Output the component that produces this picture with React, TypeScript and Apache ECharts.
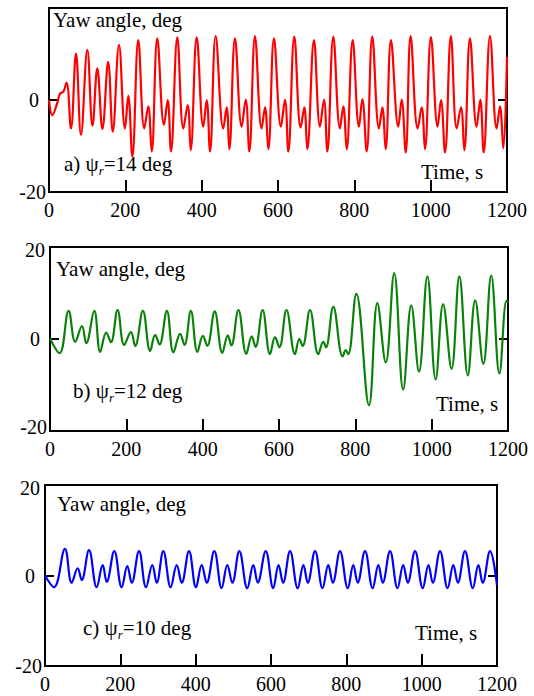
import React, { useEffect, useRef } from "react";
import * as echarts from "echarts";

// Panel a) psi_r = 14 deg (red)
const T_A = [0, 8.7, 20, 29, 37.6, 46, 57.6, 70.7, 83.8, 100.4, 114, 126.6, 140, 155, 167, 183.4, 199, 207.8, 218.3, 234, 249.7, 260, 269, 283.8, 301.3, 311, 319.6, 336.2, 352, 363.4, 371.2, 387, 404.3, 413.2, 421.8, 436.7, 456.7, 465.6, 472.4, 487.3, 504.9, 515.4, 524.8, 539.7, 557.2, 565.9, 574.6, 589.5, 607.8, 618.3, 627, 642.7, 659.4, 668.9, 676.7, 694.3, 710, 720.5, 729.2, 744.9, 762.4, 771.1, 779.9, 795.7, 812.2, 820.9, 832.3, 847, 864.6, 873.3, 882, 896, 915.3, 924, 934.5, 947.5, 966, 976.5, 985, 1000.7, 1018.3, 1027, 1037.5, 1053, 1068.2, 1079.4, 1088.1, 1103, 1120.5, 1130, 1138.8, 1155.5, 1172.9, 1181.6, 1190.3, 1200];
const V_A = [0, -3.3, -1.1, 1.4, 1.8, 3.8, -6.2, 10.1, -7.6, 10.9, -5.6, 6.9, -6.3, 8.3, -6.9, 12, -6.2, 0.9, -12.3, 13, -6.2, -1.4, -11.2, 13.4, -5.4, 0, -11.2, 13.6, -6.2, -1.1, -10.9, 13.6, -5.8, 0, -11.2, 13.9, -6.2, -1.6, -10.7, 13.4, -5.8, 0.1, -11.2, 13.9, -6.2, -1.6, -10.7, 13.4, -5.8, 0.1, -11.2, 13.8, -6, -1.6, -10.7, 13, -5.8, 0.1, -11.2, 13.8, -6.2, -1.4, -10.7, 13, -5.8, 0.2, -11.2, 13.8, -6.2, -1.6, -10.7, 13, -5.8, 0.1, -11.4, 13.9, -6.2, -1.6, -10.7, 13.7, -5.8, 0, -11.4, 13.9, -6.2, -1.6, -10.9, 13.4, -5.8, 0.1, -11.4, 13.9, -6.2, -1.4, -10.5, 9.4];

// Panel b) psi_r = 12 deg (green)
const T_B = [0, 25, 48.8, 66.2, 83.7, 95, 116, 131.6, 147.3, 159.6, 177, 194.5, 212, 223.2, 243.4, 262.5, 275.6, 286.8, 306.2, 323.5, 341, 352.3, 369, 386.3, 400.5, 412, 431.5, 451.5, 466, 475, 493.6, 514.5, 528.6, 538.5, 557, 576.5, 589.6, 601, 619.5, 642, 653.3, 662, 681.2, 703, 716, 723, 742.2, 766.7, 775, 781.4, 802.5, 835.8, 857.8, 879.6, 901.8, 925.4, 946.5, 966.8, 988.7, 1010.5, 1030, 1052, 1072.5, 1094.8, 1114, 1135.3, 1156, 1177.5, 1196, 1200];
const V_B = [0.1, -3.1, 6.1, -0.6, 2.8, -0.9, 6.1, -2.8, 1.4, -0.7, 6.3, -1.3, 1.5, -1.5, 6.1, -2.6, 0.9, -1.2, 6.1, -2.9, 1.1, -1.3, 6.1, -2.8, 0.7, -1.5, 6, -3, 0.8, -1.4, 6.3, -3.2, 0.6, -1.7, 6.3, -3.3, 0.4, -1.8, 6.3, -3.3, 0, -1.5, 6.3, -3.3, -0.6, -1.8, 7, -3.8, -2.4, -3.3, 9.8, -14.4, 7.8, -5.1, 14.3, -11, 7.3, -7.1, 13.6, -8.8, 7.6, -6.5, 13.6, -7.9, 8.4, -5.4, 13.8, -7.5, 8.3, 7.9];

// Panel c) psi_r = 10 deg (blue)
const T_C = [0, 23.9, 53, 70.8, 86.8, 97.4, 116.8, 137.2, 153.2, 163.8, 184, 203.6, 218.5, 230.2, 249.6, 268.2, 284.9, 296.6, 314.1, 333.7, 349.7, 362.9, 382.3, 400.9, 416, 429.3, 449.5, 469, 484, 497.3, 515.9, 537.1, 553, 564.7, 586, 606, 620, 632, 650.5, 671, 686, 697.5, 716.9, 737, 752, 764, 783.2, 804, 818.5, 830, 849.6, 870, 885, 896.5, 916, 936, 951, 963, 982.4, 1003, 1018, 1029.5, 1048.7, 1069, 1084, 1096, 1115, 1136, 1150.5, 1162, 1181.5, 1200];
const V_C = [0, -2.6, 5.9, -1.6, 1.6, -1, 5.6, -2.6, 2.3, -1.4, 5.4, -2.6, 2.1, -1.6, 5.4, -2.6, 2.3, -1.6, 5.4, -2.6, 2.3, -1.6, 5.4, -2.6, 2.3, -1.6, 5.4, -2.8, 2.3, -1.6, 5.4, -2.8, 2.3, -1.6, 5.4, -2.8, 2.3, -1.6, 5.4, -2.8, 2.3, -1.6, 5.4, -2.8, 2.3, -1.6, 5.4, -2.8, 2.3, -1.6, 5.4, -2.8, 2.3, -1.6, 5.4, -2.8, 2.3, -1.6, 5.4, -2.8, 2.3, -1.6, 5.4, -2.8, 2.3, -1.6, 5.4, -2.8, 2.3, -1.6, 5.4, -2.1];

const X_TICKS = { min: 0, max: 1200, interval: 200 };
const Y_TICKS = { min: -20, max: 20, interval: 20 };
const PANEL_LABELS = ["a) ψ{s|r}=14 deg", "b) ψ{s|r}=12 deg", "c) ψ{s|r}=10 deg"];
const Y_TITLE = "Yaw angle, deg";
const X_TITLE = "Time, s";
const COLORS = ["#ff0000", "#0a820a", "#0000ff"];

const FONT = '"Liberation Serif", "Times New Roman", serif';

export default function App() {
  const ref = useRef<HTMLDivElement>(null);
  useEffect(() => {
    if (!ref.current) return;
    const chart = echarts.init(ref.current, undefined, { renderer: "svg" });
    const grids = [
      { left: 49, top: 8, width: 458, height: 184 },
      { left: 50, top: 247, width: 458, height: 184 },
      { left: 45, top: 485, width: 452, height: 181 },
    ];
    const series = [
      [T_A, V_A],
      [T_B, V_B],
      [T_C, V_C],
    ];
    const xAxis = grids.map((_, i) => ({
      gridIndex: i,
      type: "value",
      ...X_TICKS,
      axisLine: { show: true, onZero: false, lineStyle: { color: "#000", width: 2 } },
      axisTick: { show: true, inside: true, length: 12, lineStyle: { color: "#000", width: 2 } },
      axisLabel: {
        color: "#000",
        fontSize: 20,
        fontFamily: FONT,
        margin: 8,
        formatter: (v: number) => String(v),
      },
      splitLine: { show: false },
    }));
    const yAxis: any[] = [];
    grids.forEach((_, i) => {
      yAxis.push({
        gridIndex: i,
        type: "value",
        position: "left",
        ...Y_TICKS,
        axisLine: { show: false },
        axisTick: { show: true, inside: true, length: 9, lineStyle: { color: "#000", width: 2 } },
        axisLabel: {
          color: "#000",
          fontSize: 20,
          fontFamily: FONT,
          margin: 3,
          formatter: (v: number) => {
            if (v === 20) return i === 0 ? "" : "{p|20}";
            if (v === 0) return "{z|0}";
            return i === 1 ? "{n|-20}" : "{m|-20}";
          },
          rich: {
            p: { fontSize: 20, fontFamily: FONT, color: "#000", padding: [6, 2, 0, 0] },
            z: { fontSize: 20, fontFamily: FONT, color: "#000", padding: [0, 7, 0, 0] },
            m: { fontSize: 20, fontFamily: FONT, color: "#000" },
            n: { fontSize: 20, fontFamily: FONT, color: "#000", padding: [0, 0, 9, 0] },
          },
        },
        splitLine: { show: false },
      });
      yAxis.push({
        gridIndex: i,
        type: "value",
        position: "right",
        ...Y_TICKS,
        axisLine: { show: false },
        axisTick: { show: true, inside: true, length: 9, lineStyle: { color: "#000", width: 2 } },
        axisLabel: { show: false },
        splitLine: { show: false },
      });
    });
    const txt = (x: number, y: number, text: string, rich = false) => ({
      type: "text",
      x,
      y,
      silent: true,
      style: {
        text,
        fill: "#000",
        font: `21px ${FONT}`,
        textAlign: "left",
        textVerticalAlign: "middle",
        align: "left",
        verticalAlign: "middle",
        ...(rich
          ? {
              rich: {
                s: {
                  fontSize: 13,
                  fontStyle: "italic",
                  fontFamily: FONT,
                  fill: "#000",
                  lineHeight: 13,
                  verticalAlign: "bottom",
                },
              },
              lineHeight: 26,
            }
          : {}),
      },
    });
    chart.setOption({
      animation: false,
      backgroundColor: "#fff",
      grid: grids.map((g) => ({ ...g, show: true, borderColor: "#000", borderWidth: 2 })),
      xAxis,
      yAxis,
      series: series.map(([t, v], i) => ({
        type: "line",
        xAxisIndex: i,
        yAxisIndex: i * 2,
        data: (t as number[]).map((tt, k) => [tt, (v as number[])[k]]),
        showSymbol: false,
        smooth: 0.4,
        lineStyle: { color: COLORS[i], width: 2.2 },
        itemStyle: { color: COLORS[i] },
        clip: true,
      })),
      graphic: [
        txt(53, 20, Y_TITLE),
        txt(56, 269, Y_TITLE),
        txt(57, 504, Y_TITLE),
        txt(64, 164, PANEL_LABELS[0], true),
        txt(73, 391, PANEL_LABELS[1], true),
        txt(83, 628, PANEL_LABELS[2], true),
        txt(421, 172, X_TITLE),
        txt(436, 404, X_TITLE),
        txt(415, 633, X_TITLE),
      ],
    });
    return () => chart.dispose();
  }, []);
  return (
    <div
      ref={ref}
      style={{ position: "absolute", left: 0, top: 0, width: 534, height: 696, background: "#fff" }}
    />
  );
}
